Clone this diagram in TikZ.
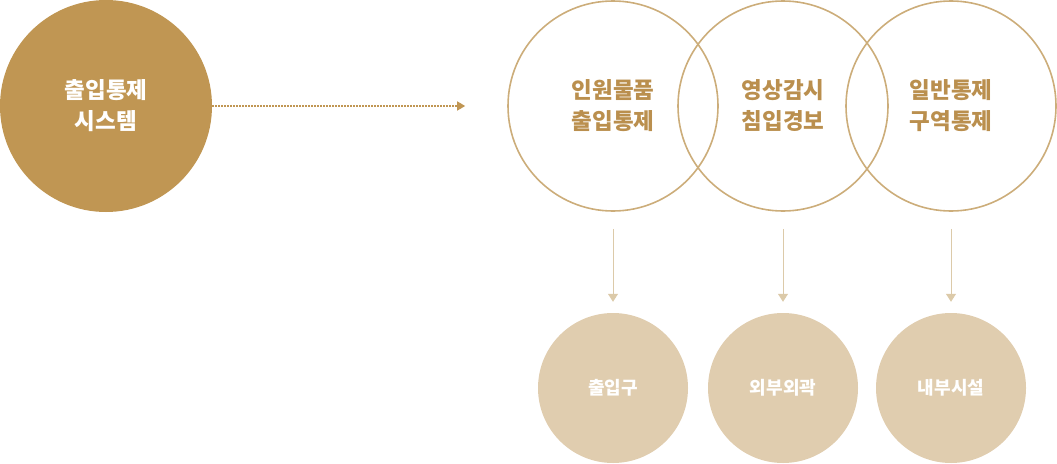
\documentclass[tikz,border=0pt]{standalone}
\usepackage{fontspec}
\setmainfont{Noto Sans CJK KR}
\usetikzlibrary{arrows.meta}
\definecolor{gold}{HTML}{C09653}
\definecolor{goldline}{HTML}{CCAD7A}
\definecolor{goldtext}{HTML}{BA8F4E}
\definecolor{sand}{HTML}{E0CDAF}
\definecolor{sandline}{HTML}{DCCAA9}
\tikzset{
  sysnode/.style={circle,fill=gold,minimum size=212pt,inner sep=0pt,text=white,
    align=center,font=\fontsize{22.5}{31}\selectfont\bfseries},
  ringnode/.style={circle,draw=goldline,line width=1.6pt,minimum size=210pt,inner sep=0pt,
    text=goldtext,align=center,font=\fontsize{22.5}{31}\selectfont\bfseries},
  areanode/.style={circle,fill=sand,minimum size=150pt,inner sep=0pt,text=white,
    align=center,font=\fontsize{18}{21}\selectfont\bfseries},
}
\begin{document}
\begin{tikzpicture}[x=1pt,y=-1pt]
  \useasboundingbox (0,0) rectangle (1057,463);
  \node[sysnode] (sys) at (106,106) {출입통제\\시스템};
  % three rings
  \node[ringnode] (ring1) at (613,106) {인원물품\\출입통제};
  \node[ringnode] (ring2) at (783,106) {영상감시\\침입경보};
  \node[ringnode] (ring3) at (951,106) {일반통제\\구역통제};
  % areas
  \node[areanode] (area1) at (613,388) {출입구};
  \node[areanode] (area2) at (783,388) {외부외곽};
  \node[areanode] (area3) at (951,388) {내부시설};
  \draw[gold,line width=1.5pt,dash pattern=on 1.5pt off 1.5pt,shorten >=42pt,
    -{Triangle[length=8pt,width=9pt]}] (sys) -- (ring1);
  \foreach \k in {1,2,3}{
    \draw[sandline,line width=1pt,shorten <=17pt,shorten >=11pt,
      -{Triangle[length=8pt,width=10pt]}] (ring\k.south) -- (area\k.north);
  }
\end{tikzpicture}
\end{document}
